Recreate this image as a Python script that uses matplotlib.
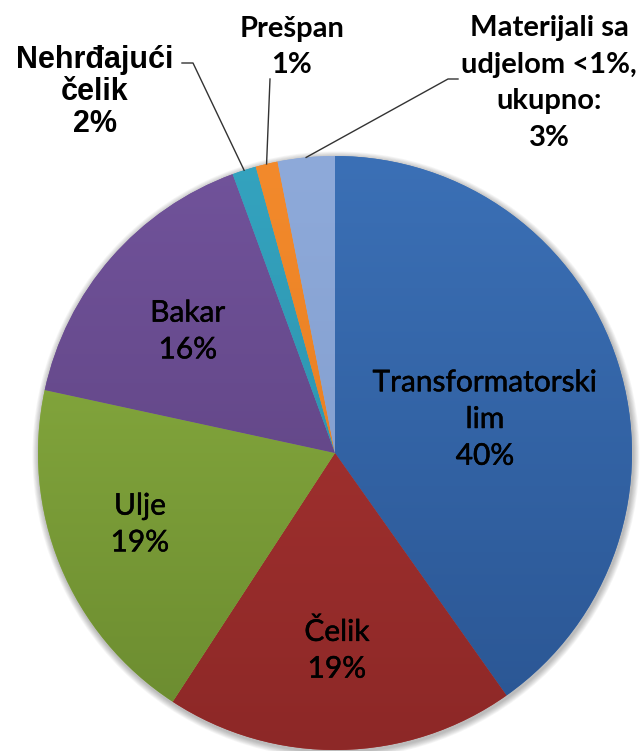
import numpy as np
import matplotlib
matplotlib.use("Agg")
import matplotlib.pyplot as plt
import matplotlib.patheffects as pe
from matplotlib.colors import LinearSegmentedColormap
from matplotlib.patches import Circle

# data (clockwise from 12 o'clock)
labels = ["Transformatorski\nlim", "Čelik", "Ulje", "Bakar",
          "Nehrđajući\nčelik", "Prešpan", "Materijali sa\nudjelom <1%,\nukupno:"]
values = [40.2, 19.0, 19.2, 16.0, 1.3, 1.2, 3.1]
pct_text = ["40%", "19%", "19%", "16%", "2%", "1%", "3%"]
top_colors = ["#3b70b6", "#ad3634", "#8fb443", "#71539b", "#34a3bf", "#f38a2c", "#8eaada"]
bot_colors = ["#2a5592", "#8d2827", "#6a8a2f", "#593e79", "#2a8aa3", "#e0781c", "#7d98c8"]

W, H = 643, 751
cx, cy, R = 335, H - 453, 297

fig = plt.figure(figsize=(W / 100, H / 100), dpi=100)
ax = fig.add_axes([0, 0, 1, 1])

# soft shadow under the pie
for i in range(8):
    ax.add_patch(Circle((cx + 1, cy - 2), R + 1 + i * 0.8, color="black",
                        alpha=0.035, lw=0, zorder=0))

wedges, _ = ax.pie(values, colors=top_colors, startangle=90, counterclock=False,
                   center=(cx, cy), radius=R, wedgeprops=dict(lw=0))

# vertical gradient fill for every slice
grad = np.linspace(0, 1, 256).reshape(-1, 1)
for w, c0, c1 in zip(wedges, top_colors, bot_colors):
    cmap = LinearSegmentedColormap.from_list("g", [c0, c1])
    im = ax.imshow(grad, cmap=cmap, extent=(cx - R, cx + R, cy - R, cy + R),
                   origin="upper", aspect="auto", zorder=2)
    im.set_clip_path(w)

thick = [pe.withStroke(linewidth=0.35, foreground="black")]
inner_font = dict(family="Lato", fontsize=21.5, color="black", ha="center",
                  va="center", linespacing=1.38, zorder=5, path_effects=thick)
inner_pos = [(485, 419), (337, 650), (140, 524), (188, 331)]
for i, (x, y) in enumerate(inner_pos):
    ax.text(x, H - y, labels[i] + "\n" + pct_text[i], **inner_font)

# outside labels with leader lines
outer_pos = [(95, 92), (292, 47), (549, 83)]
outer_fam = ["Liberation Sans", "Lato", "Lato"]
outer_size = [22, 21, 21]
outer_ls = [1.1, 1.5, 1.5]
elbow = [[(182, 63), (193, 63)], [(270, 79)], [(458, 79), (448, 79)]]
for k, i in enumerate([4, 5, 6]):
    x, y = outer_pos[k]
    ax.text(x, H - y, labels[i] + "\n" + pct_text[i], family=outer_fam[k],
            fontsize=outer_size[k], fontweight="bold", ha="center", va="center",
            linespacing=outer_ls[k], zorder=5)
    w = wedges[i]
    mid = np.deg2rad((w.theta1 + w.theta2) / 2)
    ex, ey = cx + R * np.cos(mid), cy + R * np.sin(mid)
    pts = [(px, H - py) for px, py in elbow[k]] + [(ex, ey)]
    ax.plot([p[0] for p in pts], [p[1] for p in pts], color="#333333", lw=1, zorder=4)

ax.set_xlim(0, W)
ax.set_ylim(0, H)
ax.set_aspect("auto")
ax.axis("off")
fig.savefig("out.png", dpi=100)
